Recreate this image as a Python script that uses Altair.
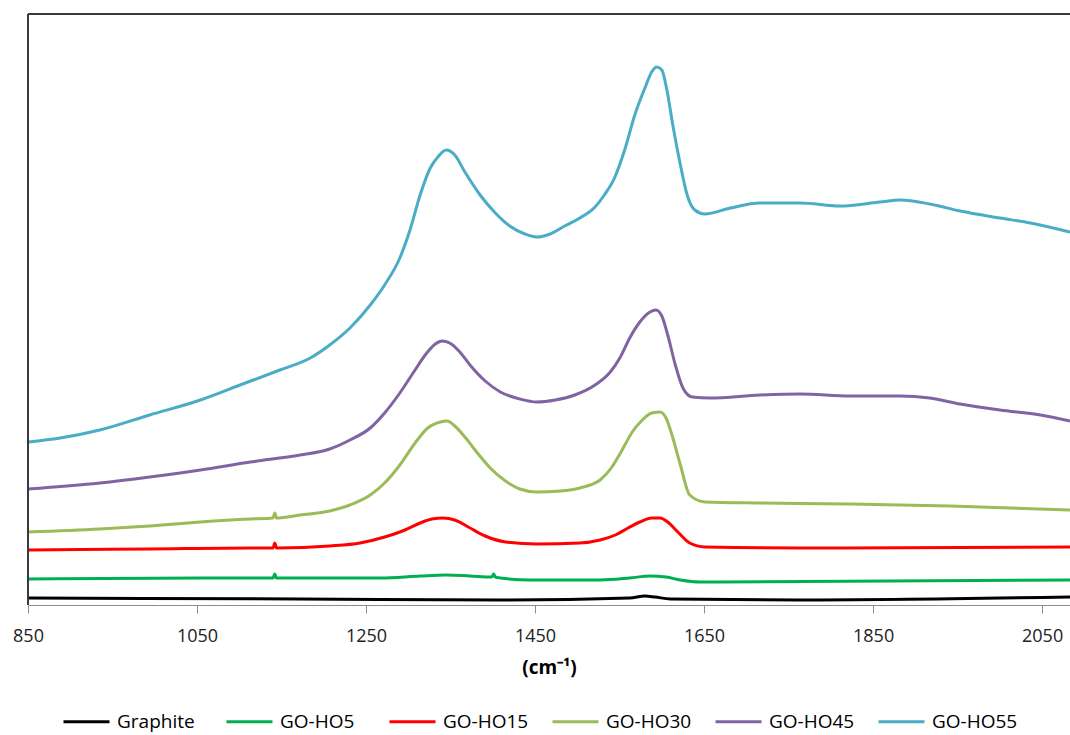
import altair as alt
import pandas as pd

# Raman spectra of graphite and graphene oxide samples (stacked, arbitrary intensity units)
series_names = ["Graphite", "GO-HO5", "GO-HO15", "GO-HO30", "GO-HO45", "GO-HO55"]
series_colors = ["#000000", "#00B050", "#FF0000", "#9BBB59", "#8064A2", "#4BACC6"]

graphite_wn = [850, 1172, 1409, 1562, 1580, 1592, 1610, 1764, 2083]
graphite_int = [7, 6, 5, 7, 9, 8, 6, 5, 8]

ho5_wn = [850, 1054, 1140, 1142, 1144, 1267, 1314, 1344, 1373, 1399, 1401, 1403, 1409,
          1444, 1527, 1562, 1586, 1605, 1622, 1645, 2083]
ho5_int = [26, 27, 27, 31, 27, 27, 29, 30, 29, 28, 31, 28, 27,
           25, 25, 27, 29, 28, 25, 23, 25]

ho15_wn = [850, 994, 1113, 1140, 1142, 1144, 1207, 1243, 1272, 1296, 1314, 1328, 1341, 1355,
           1371, 1391, 1415, 1452, 1503, 1527, 1545, 1560, 1574, 1588, 1598, 1607,
           1619, 1633, 1651, 1764, 2083]
ho15_int = [55, 56, 57, 57, 62, 57, 59, 62, 68, 75, 82, 86, 87, 85,
            78, 69, 63, 61, 62, 65, 70, 77, 83, 87, 87, 83,
            73, 62, 58, 57, 58]

ho30_wn = [850, 935, 994, 1054, 1113, 1140, 1142, 1144, 1172, 1207, 1231, 1255, 1272, 1290,
           1308, 1323, 1338, 1346, 1355, 1367, 1379, 1397, 1415, 1432, 1452, 1480,
           1503, 1527, 1541, 1553, 1565, 1577, 1588, 1598, 1605, 1612, 1622, 1633,
           1651, 1716, 1823, 1941, 2083]
ho30_int = [73, 76, 79, 83, 86, 87, 92, 87, 90, 94, 100, 110, 122, 140,
            162, 177, 183, 184, 179, 168, 155, 137, 124, 116, 113, 114,
            117, 125, 138, 155, 173, 185, 192, 193, 187, 170, 140, 110,
            103, 102, 101, 99, 95]

ho45_wn = [850, 935, 994, 1054, 1113, 1172, 1207, 1231, 1255, 1272, 1290, 1308, 1320, 1332,
           1340, 1349, 1361, 1373, 1391, 1409, 1432, 1452, 1474, 1497, 1521, 1539,
           1551, 1562, 1574, 1586, 1593, 1600, 1607, 1616, 1625, 1636, 1657, 1716,
           1764, 1823, 1882, 1917, 1953, 2000, 2048, 2083]
ho45_int = [116, 122, 128, 135, 143, 150, 156, 165, 177, 192, 212, 235, 250, 261,
            264, 262, 253, 240, 224, 213, 206, 203, 205, 210, 220, 233,
            248, 267, 283, 293, 295, 289, 270, 240, 217, 208, 207, 210,
            211, 209, 209, 207, 201, 195, 190, 184]

ho55_wn = [850, 888, 935, 994, 1054, 1101, 1148, 1184, 1207, 1231, 1255, 1272, 1290, 1302,
           1314, 1326, 1335, 1345, 1355, 1367, 1385, 1403, 1420, 1438, 1452, 1468,
           1485, 1503, 1521, 1532, 1544, 1556, 1568, 1580, 1588, 1594, 1600, 1606,
           1613, 1622, 1630, 1639, 1651, 1681, 1716, 1764, 1811, 1858, 1882, 1917,
           1953, 2000, 2036, 2083]
ho55_int = [163, 167, 175, 190, 205, 220, 235, 247, 260, 277, 300, 320, 347, 375,
            410, 437, 448, 455, 450, 433, 410, 392, 379, 371, 368, 371,
            379, 387, 398, 410, 427, 455, 490, 517, 533, 538, 535, 515,
            480, 440, 410, 395, 391, 397, 402, 402, 399, 403, 405, 401,
            394, 387, 382, 373]

x_ticks = [850, 1050, 1250, 1450, 1650, 1850, 2050]

spectra = [
    (graphite_wn, graphite_int),
    (ho5_wn, ho5_int),
    (ho15_wn, ho15_int),
    (ho30_wn, ho30_int),
    (ho45_wn, ho45_int),
    (ho55_wn, ho55_int),
]

rows = []
for name, (wn, inten) in zip(series_names, spectra):
    for w, v in zip(wn, inten):
        rows.append({"sample": name, "wavenumber": w, "intensity": v})
df = pd.DataFrame(rows)

plot_w, plot_h = 1042, 591
font = "Open Sans"

lines = alt.Chart(df).mark_line(strokeWidth=3, interpolate="monotone").encode(
    x=alt.X(
        "wavenumber:Q",
        scale=alt.Scale(domain=[850, 2083], nice=False, zero=False),
        axis=alt.Axis(
            values=x_ticks,
            format="d",
            title="(cm⁻¹)",
            titleFont=font,
            titleFontSize=19,
            titleFontWeight="bold",
            titleColor="#000000",
            titlePadding=13,
            labelFont=font,
            labelFontSize=18,
            labelColor="#222222",
            labelPadding=14,
            tickSize=8,
            tickColor="#8c8c8c",
            domainColor="#8c8c8c",
            grid=False,
            labelFlush=False,
            labelOverlap=False,
        ),
    ),
    y=alt.Y(
        "intensity:Q",
        scale=alt.Scale(domain=[0, plot_h], nice=False, zero=False),
        axis=None,
    ),
    color=alt.Color(
        "sample:N",
        scale=alt.Scale(domain=series_names, range=series_colors),
        sort=series_names,
        legend=alt.Legend(
            title=None,
            orient="none",
            legendX=34,
            legendY=683,
            direction="horizontal",
            columns=6,
            gridAlign="all",
            columnPadding=17,
            symbolType="stroke",
            symbolSize=2116,
            symbolStrokeWidth=3,
            labelFont=font,
            labelFontSize=19,
            labelColor="#000000",
            labelOffset=6,
            labelLimit=200,
        ),
    ),
)

frame = pd.DataFrame({"k": [0]})
left_border = alt.Chart(frame).mark_rule(color="#3a3a3a", strokeWidth=2).encode(
    x=alt.value(0), y=alt.value(0), y2=alt.value(plot_h)
)
top_border = alt.Chart(frame).mark_rule(color="#3a3a3a", strokeWidth=2).encode(
    x=alt.value(0), x2=alt.value(plot_w), y=alt.value(0)
)

chart = alt.layer(lines, left_border, top_border).properties(
    width=plot_w,
    height=plot_h,
    padding={"left": 28, "top": 14, "right": 0, "bottom": 130},
    autosize=alt.AutoSizeParams(type="none"),
    background="#ffffff",
).configure_view(stroke=None)

chart.save("out.html", embed_options={"renderer": "svg", "actions": False})
